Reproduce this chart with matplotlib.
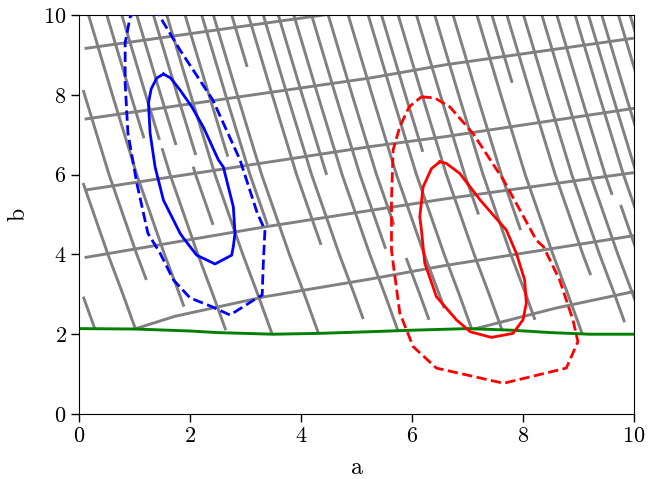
import numpy as np
import matplotlib
matplotlib.use("Agg")
import matplotlib.pyplot as plt

plt.rcParams["font.family"] = ["cmr10", "DejaVu Serif"]
plt.rcParams["mathtext.fontset"] = "cm"
plt.rcParams["axes.formatter.use_mathtext"] = True

# ---- green boundary curve ----
green_a = [0, 1, 2, 2.5, 3.5, 4.3, 5.2, 6, 7, 7.8, 8.5, 9.2, 10]
green_b = [2.14, 2.13, 2.08, 2.04, 2.0, 2.02, 2.06, 2.10, 2.14, 2.10, 2.04, 2.0, 2.0]

# ---- shallow grey lines (a, b points) ----
shallow_lines = [
    [(0.1, 9.16), (4.25, 9.97), (6.0, 10.3)],
    [(0.1, 7.39), (5.24, 8.42), (6.59, 8.75), (10, 9.42)],
    [(0.1, 5.61), (5.24, 6.70), (6.59, 6.95), (10, 7.66)],
    [(0.1, 3.92), (3.35, 4.69), (5.24, 5.10), (6.59, 5.39), (10, 6.05)],
    [(1.0, 2.13), (1.73, 2.45), (3.35, 2.94), (5.24, 3.38), (6.59, 3.72), (10, 4.47)],
    [(7.12, 2.13), (8.58, 2.65), (10, 3.07)],
]

# ---- steep grey lines: common shape (offset in a vs b) ----
steep_b = [10.5, 10, 9, 8, 7, 6, 5, 4, 3, 2, 1.5]
steep_off = [-0.107, 0, 0.215, 0.43, 0.65, 0.87, 1.12, 1.37, 1.64, 1.90, 2.03]
# each segment: (a at b=10, upper b, lower b)
steep_segments = [
    (-1.58, 2.94, 2.14), (-0.85, 5.79, 2.13), (-0.33, 8.12, 3.36),
    (0.17, 10.5, 2.69), (0.50, 10.5, 6.91),
    (0.77, 10.5, 6.87), (0.77, 6.66, 2.10),
    (1.04, 10.5, 6.74),
    (1.34, 10.5, 6.49), (1.23, 6.20, 4.74),
    (1.58, 10.5, 2.01), (1.91, 10.5, 6.45), (2.21, 10.5, 4.74),
    (2.42, 10.5, 2.02), (2.75, 10.5, 8.70), (3.05, 10.5, 4.24),
    (3.32, 10.5, 2.38), (3.59, 10.5, 5.99), (3.87, 10.5, 2.08),
    (4.19, 10.5, 4.14), (4.49, 10.5, 4.74), (4.50, 3.91, 2.36),
    (4.85, 10.5, 2.65), (5.21, 10.5, 2.12), (5.45, 10.5, 6.57),
    (5.75, 10.5, 2.10), (6.08, 10.5, 5.00), (6.41, 10.5, 2.36),
    (6.74, 10.5, 4.61), (7.17, 10.5, 2.02), (7.44, 10.5, 8.30),
    (7.71, 10.5, 3.48), (8.01, 10.5, 2.30), (8.34, 10.5, 1.5),
    (8.61, 10.5, 5.49), (8.70, 5.24, 1.5), (8.94, 10.5, 1.5),
    (9.18, 10.5, 1.5), (9.42, 10.5, 1.5), (9.72, 10.5, 1.5), (9.93, 10.5, 1.5),
]

# ---- posterior contours ----
blue_inner = [(1.52, 8.52), (1.65, 8.42), (1.82, 8.12), (2.03, 7.70), (2.24, 7.19), (2.51, 6.37),
              (2.60, 6.19), (2.78, 5.19), (2.81, 4.53), (2.78, 4.20), (2.75, 3.98), (2.45, 3.76),
              (2.12, 3.98), (1.88, 4.41), (1.82, 4.53), (1.52, 5.36), (1.37, 6.19), (1.28, 7.04),
              (1.25, 7.79), (1.30, 8.15), (1.40, 8.42), (1.52, 8.52)]
blue_outer = [(1.20, 10.4), (0.92, 9.95), (0.83, 9.3), (0.83, 8.3), (0.88, 7.04), (1.04, 5.79),
              (1.24, 4.53), (1.46, 4.03), (1.70, 3.36), (2.0, 2.91), (2.41, 2.68), (2.72, 2.48),
              (3.21, 2.91), (3.30, 2.98), (3.32, 3.78), (3.35, 4.61), (3.21, 5.04), (2.9, 6.37),
              (2.41, 7.87), (1.82, 9.12), (1.46, 9.95), (1.30, 10.4), (1.20, 10.4)]
red_inner = [(6.50, 6.32), (6.62, 6.28), (6.86, 6.03), (7.23, 5.36), (7.70, 4.61), (7.88, 4.03),
             (8.03, 3.36), (8.06, 2.78), (8.0, 2.36), (7.82, 2.02), (7.43, 1.92), (7.05, 2.06),
             (6.80, 2.36), (6.44, 2.94), (6.23, 3.78), (6.17, 4.61), (6.14, 4.94), (6.20, 5.69),
             (6.35, 6.15), (6.50, 6.32)]
red_outer = [(6.17, 7.95), (6.41, 7.92), (6.68, 7.70), (7.10, 7.03), (7.65, 5.86), (8.24, 4.36),
             (8.37, 4.19), (8.66, 3.36), (8.90, 2.36), (8.99, 1.81), (8.78, 1.15), (7.65, 0.77),
             (6.44, 1.15), (6.02, 1.69), (5.78, 2.53), (5.66, 3.78), (5.63, 4.11), (5.63, 5.36),
             (5.66, 6.62), (5.78, 7.20), (5.95, 7.70), (6.17, 7.95)]

fig = plt.figure(figsize=(6.59, 4.79), dpi=100)
ax = fig.add_axes([0.12, 0.1357, 0.842, 0.833])

grey = "#808080"
for a_top, b_hi, b_lo in steep_segments:
    sb = np.array(steep_b)
    so = np.array(steep_off)
    inner = (sb < b_hi) & (sb > b_lo)
    bs = np.concatenate([[b_hi], sb[inner], [b_lo]])
    offs = np.concatenate([[np.interp(b_hi, sb[::-1], so[::-1])], so[inner],
                           [np.interp(b_lo, sb[::-1], so[::-1])]])
    ax.plot(a_top + offs, bs, color=grey, lw=2.1, solid_capstyle="butt", zorder=1)

for line in shallow_lines:
    xs, ys = zip(*line)
    ax.plot(xs, ys, color=grey, lw=2.1, solid_capstyle="butt", zorder=1)

ax.plot(green_a, green_b, color="green", lw=2.1, zorder=2)

for pts, col, ls in [(blue_inner, "blue", "-"), (blue_outer, "blue", "--"),
                     (red_inner, "red", "-"), (red_outer, "red", "--")]:
    xs, ys = zip(*pts)
    ax.plot(xs, ys, color=col, lw=2, ls=ls, zorder=3)

ax.set_xlim(0, 10)
ax.set_ylim(0, 10)
ax.set_xticks([0, 2, 4, 6, 8, 10])
ax.set_yticks([0, 2, 4, 6, 8, 10])
ax.tick_params(labelsize=16, length=5.5, width=1)
ax.set_xlabel("a", fontsize=17, labelpad=8)
ax.set_ylabel("b", fontsize=17, labelpad=10)

fig.savefig("out.png", dpi=100)
